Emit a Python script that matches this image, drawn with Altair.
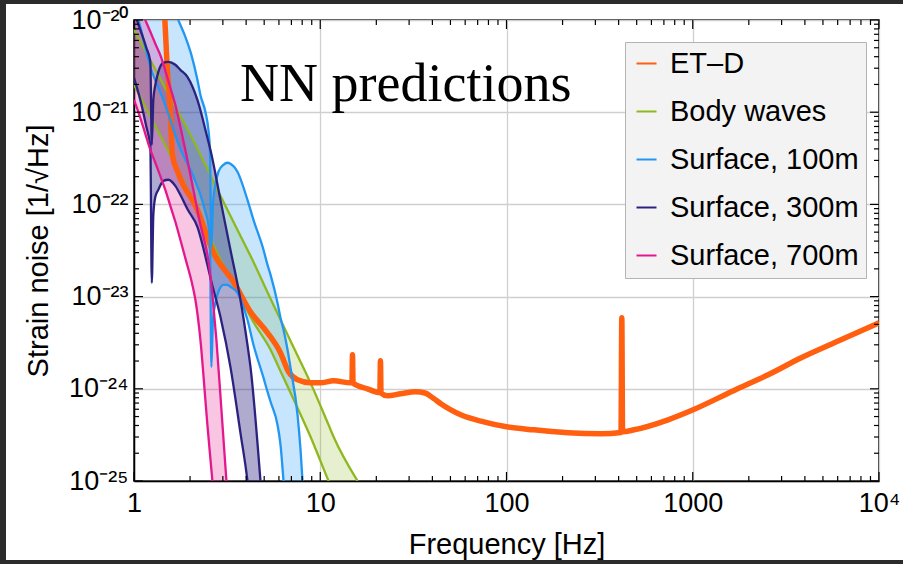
import math
import altair as alt
import pandas as pd

# ---------------- data ----------------
series_names = ["ET–D", "Body waves", "Surface, 100m", "Surface, 300m", "Surface, 700m"]
series_colors = ["#ff5f0f", "#8fb81e", "#2196f3", "#2b2280", "#e3188d"]

# ET-D sensitivity curve
etd_f = [1.45, 1.51, 1.567, 1.607, 1.73, 2.19, 2.67, 3.42, 4.22, 5.21, 6.12, 6.76, 7.55, 8.87, 10.0,
         11.8, 14.6, 14.8, 14.9, 15.0, 17.9, 20.9, 21.05, 21.2, 23.0, 27.0, 32.5, 36.5, 40.5, 44.4, 50.0,
         56.8, 75.5, 100, 140, 214, 322, 412, 416, 420, 484, 737, 1005, 1667, 2541, 3822, 5750, 10000]
etd_h = [1.5e-20, 2.88e-21, 1.06e-21, 3.45e-22, 2.16e-22, 8.74e-23, 2.99e-23, 1.45e-23, 6.84e-24, 4.05e-24,
         2.45e-24, 1.53e-24, 1.25e-24, 1.16e-24, 1.16e-24, 1.22e-24, 1.16e-24, 1.16e-24, 2.34e-24, 1.15e-24,
         1.0e-24, 9.1e-25, 2.01e-24, 9.0e-25, 8.4e-25, 8.83e-25, 9.27e-25, 9.0e-25, 7.9e-25, 6.9e-25, 5.95e-25,
         5.22e-25, 4.38e-25, 3.87e-25, 3.59e-25, 3.33e-25, 3.25e-25, 3.35e-25, 5.89e-24, 3.42e-25, 3.59e-25,
         4.61e-25, 5.92e-25, 9.6e-25, 1.42e-24, 2.17e-24, 3.15e-24, 5.2e-24]

# Body waves band
bw_f = [1.0, 1.385, 2.008, 2.911, 4.066, 4.22, 5.41, 6.118, 6.925, 8.868, 11.08, 11.79, 15.87]
bw_hi = [7.83e-21, 2.30e-21, 5.69e-22, 1.24e-22, 3.22e-23, 2.77e-23, 9.46e-24, 5.60e-24, 3.30e-24,
         1.16e-24, 4.07e-25, 3.02e-25, 1.0e-25]
bw_lo = [1.98e-21, 5.55e-22, 1.24e-22, 2.51e-23, 7.01e-24, 6.04e-24, 2.65e-24, 1.55e-24, 9.05e-25,
         3.02e-25, 1.0e-25, 7.44e-26, 1.75e-26]

# Surface waves, 100 m band
s100_f = [1.0, 1.055, 1.224, 1.437, 1.567, 1.73, 1.887, 2.033, 2.19, 2.273, 2.417, 2.509, 2.556, 2.604,
          2.653, 2.736, 2.84, 3.021, 3.174, 3.294, 3.593, 4.066, 4.38, 4.956, 5.21, 5.41, 5.894, 6.118,
          6.35, 6.674, 6.925, 7.551, 7.837, 8.034]
s100_hi = [2.01e-19, 1.57e-19, 6.88e-20, 2.80e-20, 1.74e-20, 1.0e-20, 6.57e-21, 4.19e-21, 2.25e-21,
           1.54e-21, 1.01e-21, 6.44e-22, 3.91e-22, 3.47e-23, 9.90e-23, 1.63e-22, 2.26e-22, 2.69e-22,
           2.83e-22, 2.76e-22, 2.26e-22, 1.12e-22, 6.81e-23, 3.22e-23, 2.21e-23, 1.72e-23, 8.57e-24,
           5.89e-24, 4.36e-24, 2.65e-24, 1.69e-24, 5.22e-25, 2.18e-25, 1.0e-25]
s100_lo = [1.36e-20, 1.0e-20, 3.11e-21, 1.36e-21, 8.27e-22, 4.54e-22, 3.05e-22, 2.26e-22, 1.55e-22,
           1.27e-22, 8.31e-23, 6.01e-23, 4.13e-23, 1.73e-24, 5.60e-24, 8.57e-24, 1.13e-23, 1.34e-23,
           1.34e-23, 1.28e-23, 1.10e-23, 5.60e-24, 3.0e-24, 1.32e-24, 9.28e-25, 7.23e-25, 4.07e-25,
           2.47e-25, 1.0e-25, 2.30e-26, 8.5e-27, 7.0e-28, 1.56e-28, 5.7e-29]

# Surface waves, 300 m band
s300_f = [1.0, 1.081, 1.165, 1.224, 1.246, 1.27, 1.302, 1.351, 1.437, 1.529, 1.667, 1.774, 1.935,
          2.19, 2.478, 2.572, 2.911, 3.294, 3.728, 4.066, 4.22, 4.775]
s300_hi = [1.23e-20, 7.83e-21, 5.0e-21, 3.52e-21, 4.43e-22, 1.36e-21, 1.98e-21, 2.74e-21, 3.43e-21,
           3.52e-21, 3.27e-21, 2.88e-21, 2.42e-21, 1.36e-21, 5.28e-22, 3.91e-22, 1.12e-22, 3.22e-23,
           9.23e-24, 2.99e-24, 1.73e-24, 1.0e-25]
s300_lo = [2.36e-21, 1.36e-21, 6.94e-22, 4.21e-22, 1.41e-23, 7.71e-23, 1.21e-22, 1.44e-22, 1.80e-22,
           1.85e-22, 1.59e-22, 1.27e-22, 8.9e-23, 5.71e-23, 2.21e-23, 1.60e-23, 6.04e-24, 1.73e-24,
           3.33e-25, 1.0e-25, 4.87e-26, 3.12e-27]

# Surface waves, 700 m band
s700_f = [1.0, 1.081, 1.15, 1.224, 1.302, 1.402, 1.473, 1.567, 1.667, 1.774, 1.91, 2.058, 2.136,
          2.273, 2.417, 2.478, 2.604, 2.636, 2.77, 2.947, 3.135]
s700_hi = [1.92e-20, 1.36e-20, 1.0e-20, 7.45e-21, 5.52e-21, 3.89e-21, 2.81e-21, 1.84e-21, 1.20e-21,
           6.94e-22, 3.45e-22, 1.63e-22, 1.12e-22, 6.01e-23, 3.65e-23, 2.84e-23, 1.34e-23, 1.05e-23,
           3.40e-24, 5.92e-25, 1.0e-25]
s700_lo = [1.36e-21, 8.7e-22, 5.83e-22, 3.91e-22, 2.83e-22, 1.89e-22, 1.44e-22, 9.66e-23, 6.48e-23,
           4.13e-23, 2.38e-23, 1.34e-23, 9.23e-24, 3.40e-24, 7.60e-25, 4.07e-25, 1.32e-25, 1.0e-25,
           4.82e-26, 8.4e-27, 1.46e-27]

# axes
x_major = [1, 10, 100, 1000, 10000]
x_labels = ["1", "10", "100", "1000", "10⁴"]
y_major = [1e-25, 1e-24, 1e-23, 1e-22, 1e-21, 1e-20]
y_labels = ["10⁻²⁵", "10⁻²⁴", "10⁻²³", "10⁻²²", "10⁻²¹", "10⁻²⁰"]
minor_mult = [2, 3, 4, 5, 6, 7, 8, 9]
x_minor = [m * d for d in x_major[:-1] for m in minor_mult]
y_minor = [m * d for d in y_major[:-1] for m in minor_mult]

# ---------------- build tables ----------------
bands = [
    ("Body waves", bw_f, bw_hi, bw_lo, 0.22),
    ("Surface, 100m", s100_f, s100_hi, s100_lo, 0.25),
    ("Surface, 300m", s300_f, s300_hi, s300_lo, 0.38),
    ("Surface, 700m", s700_f, s700_hi, s700_lo, 0.25),
]

W, H = 745, 461


def label_chain(vals, labs):
    expr = "'%s'" % labs[-1]
    for v, lab in reversed(list(zip(vals[:-1], labs[:-1]))):
        expr = "datum.value < %r ? '%s' : (%s)" % (v * math.sqrt(10), lab, expr)
    return expr


xscale = alt.Scale(type="log", domain=[1, 10000], nice=False)
yscale = alt.Scale(type="log", domain=[1e-25, 1e-20], nice=False)
color_scale = alt.Scale(domain=series_names, range=series_colors)
# fills only use the four bands (separate domain so it does not merge with the line legend)
fill_scale = alt.Scale(domain=series_names[1:], range=series_colors[1:])

x_axis = alt.Axis(values=x_major, labelExpr=label_chain(x_major, x_labels), title="Frequency [Hz]",
                  grid=True, ticks=False, labelPadding=9, titlePadding=14, labelFlush=False)
y_axis = alt.Axis(values=y_major, labelExpr=label_chain(y_major, y_labels), title="Strain noise [1/√Hz]",
                  grid=True, ticks=False, labelPadding=6, titlePadding=15, labelFlush=False)


def X(field):
    return alt.X(field, type="quantitative", scale=xscale, axis=x_axis)


def Y(field):
    return alt.Y(field, type="quantitative", scale=yscale, axis=y_axis)


legend = alt.Legend(title=None, orient="none", legendX=491, legendY=22)

layers = []

# screenshot frame strips (decoration)
strip = pd.DataFrame({"a": [0]})
for (x1, x2, y1, y2) in [(-134, -128, -20, 544), (-134, 769, -20, -16), (-134, 769, 540, 544)]:
    layers.append(alt.Chart(strip).mark_rect(color="#2b2b2b", clip=False).encode(
        x=alt.value(x1), x2=alt.value(x2), y=alt.value(y1), y2=alt.value(y2)))

# band fills
for name, f, hi, lo, op in bands:
    df = pd.DataFrame({"f": f, "hi": hi, "lo": lo, "band": name})
    layers.append(alt.Chart(df).mark_area(interpolate="monotone", clip=True, fillOpacity=op).encode(
        x=X("f"), y=Y("lo"), y2=alt.Y2("hi"),
        fill=alt.Fill("band:N", scale=fill_scale, legend=None)))


def band_lines(name, f, hi, lo):
    df = pd.concat([
        pd.DataFrame({"f": f, "h": hi, "part": "upper", "series": name}),
        pd.DataFrame({"f": f, "h": lo, "part": "lower", "series": name}),
    ])
    return alt.Chart(df).mark_line(interpolate="monotone", clip=True, strokeWidth=2.3).encode(
        x=X("f"), y=Y("h"), detail="part:N",
        stroke=alt.Stroke("series:N", scale=color_scale, legend=legend))


layers.append(band_lines("Body waves", bw_f, bw_hi, bw_lo))
etd_df = pd.DataFrame({"f": etd_f, "h": etd_h, "series": "ET–D"})
layers.append(alt.Chart(etd_df).mark_line(interpolate="monotone", clip=True, strokeWidth=5.5,
                                          strokeJoin="bevel").encode(
    x=X("f"), y=Y("h"), stroke=alt.Stroke("series:N", scale=color_scale, legend=legend)))
for name, f, hi, lo, op in bands[1:]:
    layers.append(band_lines(name, f, hi, lo))

# inward ticks on all four sides
for vals, L in [(x_major, 9), (x_minor, 5)]:
    d = pd.DataFrame({"v": vals})
    layers.append(alt.Chart(d).mark_rule(color="black", strokeWidth=1.2).encode(
        x=X("v"), y=alt.value(H), y2=alt.value(H - L)))
    layers.append(alt.Chart(d).mark_rule(color="black", strokeWidth=1.2).encode(
        x=X("v"), y=alt.value(0), y2=alt.value(L)))
for vals, L in [(y_major, 9), (y_minor, 5)]:
    d = pd.DataFrame({"v": vals})
    layers.append(alt.Chart(d).mark_rule(color="black", strokeWidth=1.2).encode(
        y=Y("v"), x=alt.value(0), x2=alt.value(L)))
    layers.append(alt.Chart(d).mark_rule(color="black", strokeWidth=1.2).encode(
        y=Y("v"), x=alt.value(W), x2=alt.value(W - L)))

chart = alt.layer(*layers).properties(
    width=W, height=H,
    autosize=alt.AutoSizeParams(type="none"),
    padding={"left": 134, "top": 20, "right": 24, "bottom": 83},
    background="white",
    title=alt.TitleParams("NN predictions", font="Liberation Serif", fontSize=54, fontWeight="normal",
                          anchor="start", frame="group", dx=106, dy=155, offset=0,
                          baseline="alphabetic", color="black"),
).configure_view(
    stroke="black", strokeWidth=1.5
).configure_axis(
    labelFont="Liberation Sans", labelFontSize=27, labelColor="black",
    titleFont="Liberation Sans", titleFontSize=29, titleFontWeight="normal", titleColor="black",
    domainColor="black", domainWidth=1.5, gridColor="#cfcfcf", gridWidth=1.3,
).configure_legend(
    fillColor="#f3f3f3", strokeColor="#b4b4b4", padding=7,
    labelFont="Liberation Sans", labelFontSize=29, labelColor="black", labelLimit=400, labelOffset=9,
    symbolType="stroke", symbolSize=400, symbolStrokeWidth=2, rowPadding=18,
)

chart.save("out.html", embed_options={"renderer": "svg", "actions": False})
